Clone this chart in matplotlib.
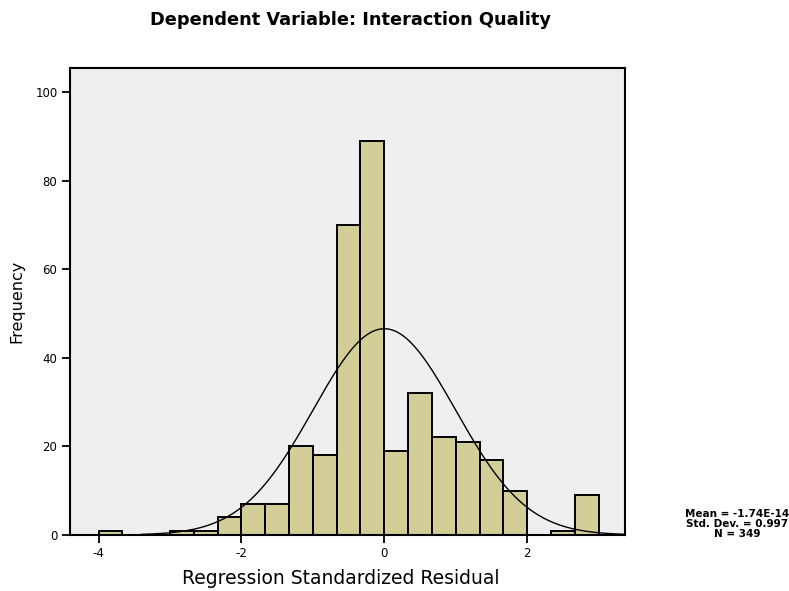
import numpy as np
import matplotlib
matplotlib.use("Agg")
import matplotlib.pyplot as plt

# Histogram of regression standardized residuals (bin width 1/3)
bin_left_thirds = [-12, -11, -10, -9, -8, -7, -6, -5, -4, -3, -2, -1,
                   0, 1, 2, 3, 4, 5, 6, 7, 8]
counts = [1, 0, 0, 1, 1, 4, 7, 7, 20, 18, 70, 89,
          19, 32, 22, 21, 17, 10, 0, 1, 9]
bin_width = 1.0 / 3.0

mean_value = 0.0
std_dev = 0.997
n_obs = 349

x_ticks = [-4, -2, 0, 2]
x_tick_labels = ["-4", "-2", "0", "2"]
y_ticks = [0, 20, 40, 60, 80, 100]
y_tick_labels = ["0", "20", "40", "60", "80", "100"]

bar_color = "#d3ce98"
panel_color = "#efefef"

fig = plt.figure(figsize=(7.89, 5.91), dpi=100)
ax = fig.add_axes([0.0887, 0.0948, 0.7035, 0.7902])
ax.set_facecolor(panel_color)

lefts = np.array(bin_left_thirds) / 3.0
heights = np.array(counts)
mask = heights > 0
ax.bar(lefts[mask], heights[mask], width=bin_width, align="edge",
       color=bar_color, edgecolor="black", linewidth=1.4, zorder=2)

# Fitted normal curve scaled to counts per bin
xs = np.linspace(-3.4, 3.37, 400)
pdf = np.exp(-0.5 * ((xs - mean_value) / std_dev) ** 2) / (std_dev * np.sqrt(2 * np.pi))
ax.plot(xs, n_obs * bin_width * pdf, color="black", linewidth=1.0, zorder=3)

ax.set_xlim(-4.40, 3.37)
ax.set_ylim(0, 105.4)

ax.set_xticks(x_ticks)
ax.set_xticklabels(x_tick_labels)
ax.set_yticks(y_ticks)
ax.set_yticklabels(y_tick_labels)
ax.tick_params(axis="both", direction="out", length=6, width=1.3,
               labelsize=8.5, colors="black", pad=3)

for side in ["left", "right", "top", "bottom"]:
    ax.spines[side].set_linewidth(1.5)
    ax.spines[side].set_color("black")

ax.set_xlabel("Regression Standardized Residual", fontsize=13.5,
              family="DejaVu Sans")
ax.xaxis.set_label_coords(0.488, -0.072)
ax.set_ylabel("Frequency", fontsize=11.5, family="DejaVu Sans", labelpad=8)

fig.text(0.444, 0.966, "Dependent Variable: Interaction Quality",
         ha="center", va="center", fontsize=12.8, fontweight="bold",
         family="DejaVu Sans")

fig.text(0.934, 0.113,
         "Mean = -1.74E-14\nStd. Dev. = 0.997\nN = 349",
         ha="center", va="center", fontsize=7.5, fontweight="bold",
         linespacing=1.0, family="DejaVu Sans")

fig.savefig("out.png", dpi=100)
